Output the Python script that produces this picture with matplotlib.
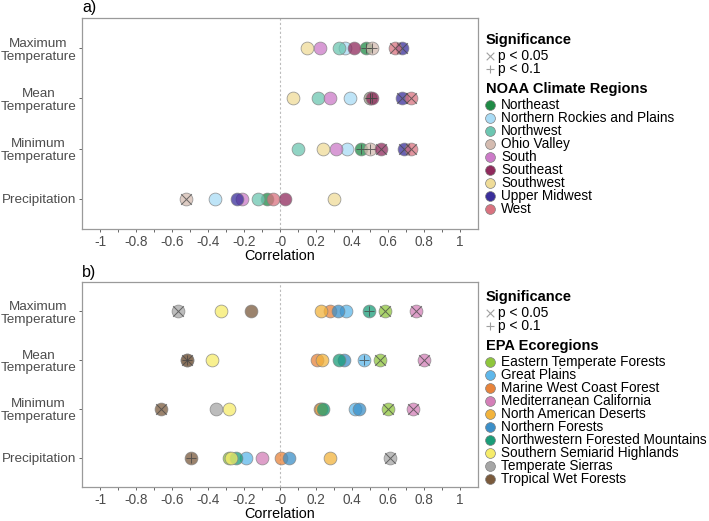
import numpy as np
from matplotlib import pyplot as plt

plt.rcParams['font.family'] = ['Liberation Sans', 'DejaVu Sans']

variables = ['Maximum\nTemperature', 'Mean\nTemperature', 'Minimum\nTemperature', 'Precipitation']

# panel a: NOAA climate regions
noaa_regions = ['Northeast', 'Northern Rockies and Plains', 'Northwest', 'Ohio Valley', 'South',
                'Southeast', 'Southwest', 'Upper Midwest', 'West']
noaa_colors = ['#1f8a45', '#a8dbf5', '#6cc6b1', '#d4bbb0', '#cc7ac8',
               '#8f2a5c', '#efdc98', '#3a2e9a', '#d9727f']
noaa_max = [0.48, 0.36, 0.33, 0.51, 0.22, 0.41, 0.15, 0.68, 0.64]
noaa_mean = [0.50, 0.39, 0.21, 0.50, 0.28, 0.51, 0.07, 0.68, 0.73]
noaa_min = [0.45, 0.37, 0.10, 0.50, 0.31, 0.56, 0.24, 0.69, 0.73]
noaa_precip = [-0.07, -0.36, -0.12, -0.52, -0.21, 0.03, 0.30, -0.24, -0.04]
noaa_max_sig = ['+', '', '', '+', '', '', '', 'x', 'x']
noaa_mean_sig = ['+', '', '', '+', '', '+', '', 'x', 'x']
noaa_min_sig = ['+', '', '', '+', '', 'x', '', 'x', 'x']
noaa_precip_sig = ['', '', '', 'x', '', '', '', '', '']

# panel b: EPA ecoregions
epa_regions = ['Eastern Temperate Forests', 'Great Plains', 'Marine West Coast Forest',
               'Mediterranean California', 'North American Deserts', 'Northern Forests',
               'Northwestern Forested Mountains', 'Southern Semiarid Highlands',
               'Temperate Sierras', 'Tropical Wet Forests']
epa_colors = ['#8fc63c', '#5eb7ea', '#e8833a', '#d47fb8', '#f2b33c',
              '#3b8fc8', '#1a9c78', '#f6ec6a', '#a6a6a6', '#7a5a3c']
epa_max = [0.585, 0.365, 0.278, 0.756, 0.228, 0.32, 0.494, -0.33, -0.565, -0.16]
epa_mean = [0.556, 0.465, 0.204, 0.798, 0.231, 0.357, 0.33, -0.376, -0.515, -0.515]
epa_min = [0.598, 0.417, 0.222, 0.739, 0.228, 0.441, 0.238, -0.285, -0.354, -0.661]
epa_precip = [-0.281, -0.189, 0.006, -0.10, 0.28, 0.05, -0.246, -0.27, 0.613, -0.496]
epa_max_sig = ['x', '', '', 'x', '', '', '+', '', 'x', '']
epa_mean_sig = ['x', '+', '', 'x', '', '', '', '', 'x', '+']
epa_min_sig = ['x', '', '', 'x', '', '', '', '', '', 'x']
epa_precip_sig = ['', '', '', '', '', '', '', '', 'x', '+']

W, H = 709, 521
fig = plt.figure(figsize=(W / 100, H / 100), dpi=100)


def panel(rect, label, colors, rows, sigs):
    ax = fig.add_axes(rect)
    ys = [4, 3, 2, 1]
    ax.axvline(0, ls=(0, (2, 2)), color='#bbbbbb', lw=0.8, zorder=0)
    for vals, sig, y in zip(rows, sigs, ys):
        for v, s, c in zip(vals, sig, colors):
            ax.scatter(v, y, s=85, color=c, alpha=0.75, edgecolors='#808080', linewidths=0.6, zorder=2)
            if s:
                ax.scatter(v, y, s=60, marker=s, color='#444444', alpha=0.75, linewidths=0.7, zorder=3)
    ax.set_xlim(-1.1, 1.1)
    ax.set_ylim(0.4, 4.6)
    ticks = np.round(np.arange(-1, 1.01, 0.1), 1)
    ax.set_xticks(ticks)
    ax.set_xticklabels([f'{t:g}' if round(t * 10) % 2 == 0 else '' for t in ticks])
    ax.set_yticks(ys)
    ax.set_yticklabels(variables, multialignment='center', linespacing=1.1)
    ax.tick_params(colors='#4d4d4d', length=2.5, width=0.6)
    ax.tick_params(axis='y', pad=1.5, labelsize=9.7)
    ax.tick_params(axis='x', pad=1.5, labelsize=9.8)
    for sp in ax.spines.values():
        sp.set_color('#9a9a9a')
        sp.set_linewidth(0.9)
    ax.set_xlabel('Correlation', fontsize=10.4, labelpad=0)
    ax.text(0, 1.012, label, transform=ax.transAxes, fontsize=11.5, va='bottom')
    return ax


panel([82 / W, 1 - 229 / H, 396 / W, 211 / H], 'a)', noaa_colors,
      [noaa_max, noaa_mean, noaa_min, noaa_precip],
      [noaa_max_sig, noaa_mean_sig, noaa_min_sig, noaa_precip_sig])
panel([82 / W, 1 - 487 / H, 396 / W, 205 / H], 'b)', epa_colors,
      [epa_max, epa_mean, epa_min, epa_precip],
      [epa_max_sig, epa_mean_sig, epa_min_sig, epa_precip_sig])

# legends, laid out in pixel space
lg = fig.add_axes([0, 0, 1, 1])
lg.set_xlim(0, W)
lg.set_ylim(H, 0)
lg.axis('off')


def legend(y0, title, names, colors):
    lg.text(486, y0, 'Significance', fontsize=10.5, fontweight='bold', va='center')
    lg.scatter(490, y0 + 16, s=30, marker='x', color='#a0a0a0', linewidths=0.8)
    lg.text(498, y0 + 16, 'p < 0.05', fontsize=10, va='center')
    lg.scatter(490, y0 + 29, s=40, marker='+', color='#a0a0a0', linewidths=0.8)
    lg.text(498, y0 + 29, 'p < 0.1', fontsize=10, va='center')
    lg.text(486, y0 + 49, title, fontsize=10.5, fontweight='bold', va='center')
    for i, (n, c) in enumerate(zip(names, colors)):
        y = y0 + 65 + i * 12.97
        lg.scatter(490, y, s=50, color=c, edgecolors='#808080', linewidths=0.5)
        lg.text(501, y, n, fontsize=9.8, va='center')


legend(40, 'NOAA Climate Regions', noaa_regions, noaa_colors)
legend(297, 'EPA Ecoregions', epa_regions, epa_colors)

plt.savefig('out.png', dpi=100)
